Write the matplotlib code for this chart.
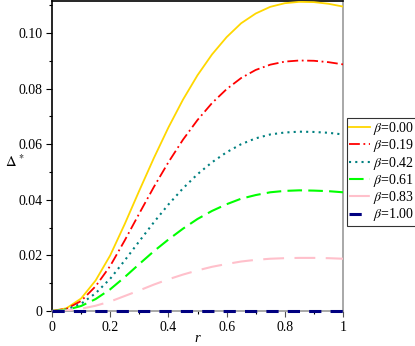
import matplotlib.pyplot as plt
from matplotlib.ticker import FixedLocator, MultipleLocator

plt.rcParams['font.family'] = ['Liberation Serif', 'DejaVu Serif']
plt.rcParams['mathtext.fontset'] = 'stix'

r = [0.00, 0.05, 0.10, 0.15, 0.20, 0.25, 0.30, 0.35, 0.40, 0.45, 0.50,
     0.55, 0.60, 0.65, 0.70, 0.75, 0.80, 0.85, 0.90, 0.95, 1.00]

delta_000 = [0, 0.0010, 0.0045, 0.0110, 0.0200, 0.0313, 0.0433, 0.0550, 0.0660,
             0.0760, 0.0848, 0.0923, 0.0985, 0.1035, 0.1070, 0.1094, 0.1107,
             0.1112, 0.1111, 0.1105, 0.1095]
delta_019 = [0, 0.0008, 0.0036, 0.0089, 0.0162, 0.0254, 0.0351, 0.0446, 0.0535,
             0.0616, 0.0687, 0.0748, 0.0798, 0.0838, 0.0867, 0.0886, 0.0897,
             0.0901, 0.0900, 0.0895, 0.0887]
delta_042 = [0, 0.0006, 0.0026, 0.0064, 0.0116, 0.0182, 0.0251, 0.0319, 0.0383,
             0.0441, 0.0492, 0.0535, 0.0571, 0.0600, 0.0621, 0.0635, 0.0642,
             0.0645, 0.0644, 0.0641, 0.0635]
delta_061 = [0, 0.0004, 0.0018, 0.0043, 0.0078, 0.0122, 0.0169, 0.0215, 0.0257,
             0.0296, 0.0331, 0.0360, 0.0384, 0.0404, 0.0417, 0.0427, 0.0432,
             0.0434, 0.0433, 0.0431, 0.0427]
delta_083 = [0, 0.0002, 0.0008, 0.0019, 0.0034, 0.0054, 0.0074, 0.0095, 0.0114,
             0.0131, 0.0146, 0.0159, 0.0169, 0.0178, 0.0184, 0.0188, 0.0190,
             0.0191, 0.0191, 0.0190, 0.0188]
delta_100 = [0] * len(r)

betas = ["0.00", "0.19", "0.42", "0.61", "0.83", "1.00"]
series = [delta_000, delta_019, delta_042, delta_061, delta_083, delta_100]
colors = ["#FFD700", "#FF0000", "#008080", "#00FF00", "#FFC0CB", "#000080"]
styles = ["-", (0, (6, 2, 1, 2)), (0, (1, 2)), (0, (7, 3)), (0, (10, 5)), (0, (4, 3))]
widths = [1.3, 1.3, 1.5, 1.5, 1.5, 2.2]

fig = plt.figure(figsize=(4.15, 3.46), dpi=100)
ax = fig.add_axes([52 / 415, 35 / 346, 291 / 415, 310 / 346])

for y, c, ls, lw, b in zip(series, colors, styles, widths, betas):
    # the beta=1 line sits on the x axis, so let it draw over the spine
    ax.plot(r, y, color=c, linestyle=ls, linewidth=lw, label=r"$\mathit{\beta}$=" + b,
            clip_on=(b != "1.00"), zorder=3)

ax.set_xlim(0, 1)
ax.set_ylim(0, 0.1115)

ax.xaxis.set_major_locator(FixedLocator([0, 0.2, 0.4, 0.6, 0.8, 1.0]))
ax.xaxis.set_minor_locator(MultipleLocator(0.1))
ax.set_xticklabels(["0", "0.2", "0.4", "0.6", "0.8", "1"])
ax.yaxis.set_major_locator(FixedLocator([0, 0.02, 0.04, 0.06, 0.08, 0.10]))
ax.yaxis.set_minor_locator(MultipleLocator(0.01))
ax.set_yticklabels(["0", "0.02", "0.04", "0.06", "0.08", "0.10"])
ax.tick_params(which='major', length=4, width=0.8, labelsize=10, pad=3)
ax.tick_params(which='minor', length=2, width=0.8)
ax.tick_params(axis='x', colors='#555555', labelcolor='black')

ax.spines['left'].set_color('black')
ax.spines['top'].set_color('black')
ax.spines['right'].set_color('#999999')
ax.spines['bottom'].set_color('#999999')
for s in ax.spines.values():
    s.set_linewidth(1.2)

fig.text(5 / 415, 1 - 162 / 346, r"$\mathit{\Delta}^{\,*}$", fontsize=10.5, va='center')
fig.text(197 / 415, 1 - 338 / 346, "r", fontsize=10.5, style='italic',
         ha='center', va='center')

leg = fig.legend(loc='upper left', bbox_to_anchor=(347 / 415, 1 - 118 / 346),
                 fontsize=10, frameon=True, fancybox=False, handlelength=1.5,
                 handletextpad=0.25, borderpad=0.15, labelspacing=0.02,
                 borderaxespad=0)
leg.get_frame().set_edgecolor('black')
leg.get_frame().set_linewidth(0.8)

fig.savefig("out.png", dpi=100)
